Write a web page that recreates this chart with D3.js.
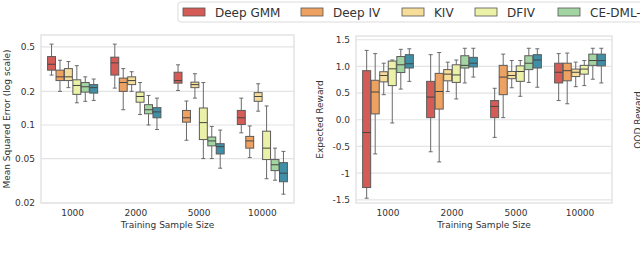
<!DOCTYPE html>
<html>
<head>
<meta charset="utf-8">
<script src="https://cdn.jsdelivr.net/npm/d3@7"></script>
<style>
  body { margin: 0; background: #fff; }
  text { font-family: "DejaVu Sans", sans-serif; fill: #333; }
</style>
</head>
<body>
<script>
// categories and series
var sizes = ["1000", "2000", "5000", "10000"];
var methods = ["Deep GMM", "Deep IV", "KIV", "DFIV", "CE-DML-IV", "CE-DML-IV (ours)"];
var colors = ["#d55b56", "#eea262", "#f7dd9a", "#ebf2a7", "#a3d5a2", "#3f8fa6"];

// box stats per size: [low whisker, q1, median, q3, high whisker]
var mseDeepGMM = [[0.28, 0.31, 0.35, 0.41, 0.53], [0.214, 0.28, 0.36, 0.405, 0.53], [0.204, 0.237, 0.25, 0.297, 0.346], [0.085, 0.101, 0.116, 0.135, 0.174]];
var mseDeepIV = [[0.2, 0.25, 0.27, 0.31, 0.38], [0.137, 0.2, 0.24, 0.263, 0.32], [0.073, 0.106, 0.116, 0.135, 0.164], [0.051, 0.062, 0.072, 0.079, 0.098]];
var mseKIV = [[0.216, 0.25, 0.27, 0.32, 0.37], [0.2, 0.23, 0.25, 0.27, 0.30], [0.174, 0.216, 0.23, 0.242, 0.288], [0.133, 0.163, 0.18, 0.195, 0.234]];
var mseDFIV = [[0.158, 0.188, 0.226, 0.254, 0.34], [0.124, 0.16, 0.18, 0.197, 0.24], [0.05, 0.074, 0.105, 0.142, 0.24], [0.033, 0.049, 0.062, 0.088, 0.148]];
var mseCEDML = [[0.163, 0.197, 0.22, 0.24, 0.27], [0.1, 0.126, 0.137, 0.152, 0.184], [0.05, 0.065, 0.072, 0.078, 0.097], [0.032, 0.039, 0.044, 0.049, 0.062]];
var mseOurs = [[0.166, 0.193, 0.216, 0.23, 0.258], [0.091, 0.116, 0.131, 0.143, 0.174], [0.041, 0.055, 0.064, 0.068, 0.09], [0.024, 0.031, 0.037, 0.046, 0.058]];

var rewDeepGMM = [[-1.47, -1.27, -0.24, 0.92, 1.30], [-0.60, 0.04, 0.425, 0.72, 1.22], [-0.33, 0.04, 0.25, 0.36, 0.59], [0.36, 0.69, 0.89, 1.06, 1.24]];
var rewDeepIV = [[-0.64, 0.11, 0.52, 0.74, 1.24], [-0.79, 0.2, 0.53, 0.87, 1.26], [0.04, 0.47, 0.80, 1.02, 1.23], [0.30, 0.73, 0.92, 1.06, 1.25]];
var rewKIV = [[0.47, 0.71, 0.83, 0.90, 1.06], [0.53, 0.73, 0.855, 0.94, 1.08], [0.60, 0.77, 0.83, 0.905, 1.11], [0.62, 0.81, 0.89, 0.95, 1.08]];
var rewDFIV = [[-0.06, 0.64, 0.955, 1.10, 1.12], [0.39, 0.70, 0.84, 1.03, 1.12], [0.44, 0.72, 0.905, 1.01, 1.11], [0.64, 0.855, 0.95, 1.02, 1.11]];
var rewCEDML = [[0.575, 0.885, 1.03, 1.185, 1.32], [0.69, 0.97, 1.02, 1.2, 1.34], [0.70, 0.94, 1.06, 1.20, 1.34], [0.76, 1.02, 1.11, 1.23, 1.34]];
var rewOurs = [[0.72, 0.97, 1.05, 1.22, 1.33], [0.80, 0.99, 1.06, 1.17, 1.34], [0.61, 0.97, 1.12, 1.22, 1.33], [0.69, 1.01, 1.11, 1.23, 1.34]];

var mseTicks = [0.02, 0.05, 0.1, 0.2, 0.5];
var mseTickLabels = ["0.02", "0.05", "0.1", "0.2", "0.5"];
var rewTicks = [-1.5, -1, -0.5, 0, 0.5, 1, 1.5];
var rewTickLabels = ["-1.5", "-1", "-0.5", "0.0", "0.5", "1.0", "1.5"];

var w = 640;
var h = 254;

var svg = d3.select("body")
    .append("svg")
    .attr("width", w)
    .attr("height", h);

// flatten series arrays into rows for d3 data joins
function toRows(seriesList) {
    var rows = [];
    seriesList.forEach(function(s, i) {
        s.forEach(function(d, j) {
            rows.push({ method: methods[i], size: sizes[j], lo: d[0], q1: d[1], med: d[2], q3: d[3], hi: d[4], c: colors[i] });
        });
    });
    return rows;
}

function drawPanel(opt) {
    var g = svg.append("g");
    var x = d3.scaleBand().domain(sizes).range([opt.left, opt.right]).paddingInner(0).paddingOuter(0);
    var inner = d3.scaleBand().domain(methods).range([x.bandwidth() * 0.1, x.bandwidth() * 0.9]);
    var y = opt.y;

    // frame
    g.append("rect")
        .attr("x", opt.left).attr("y", opt.top)
        .attr("width", opt.right - opt.left).attr("height", opt.bottom - opt.top)
        .attr("fill", "none").attr("stroke", "#dcdcdc").attr("stroke-width", 1.2);

    // grid lines
    g.selectAll(".grid").data(opt.ticks).enter()
        .append("line")
        .attr("x1", opt.left).attr("x2", opt.right)
        .attr("y1", function(d) { return y(d); })
        .attr("y2", function(d) { return y(d); })
        .attr("stroke", "#e3e3e3").attr("stroke-width", 1.2);

    // y axis
    var yAxis = d3.axisLeft(y).tickValues(opt.ticks)
        .tickFormat(function(d, i) { return opt.tickLabels[i]; })
        .tickSize(0).tickPadding(6);
    var ya = g.append("g").attr("transform", "translate(" + opt.left + ",0)").call(yAxis);
    ya.select(".domain").remove();
    ya.selectAll("text").style("font-size", "9px").attr("fill", "#333");

    // x axis
    var xAxis = d3.axisBottom(x).tickSize(0).tickPadding(7);
    var xa = g.append("g").attr("transform", "translate(0," + opt.bottom + ")").call(xAxis);
    xa.select(".domain").remove();
    xa.selectAll("text").style("font-size", "9px").attr("fill", "#333");

    g.append("text")
        .attr("x", (opt.left + opt.right) / 2).attr("y", opt.bottom + 25)
        .attr("text-anchor", "middle").style("font-size", "9px")
        .text("Training Sample Size");

    g.append("text")
        .attr("transform", "translate(" + opt.ylabelX + "," + ((opt.top + opt.bottom) / 2) + ") rotate(-90)")
        .attr("text-anchor", "middle").style("font-size", "9px")
        .text(opt.ylabel);

    var bw = inner.bandwidth() * 0.94;
    var boxes = g.selectAll(".box").data(opt.rows).enter()
        .append("g")
        .attr("transform", function(d) {
            return "translate(" + (x(d.size) + inner(d.method) + inner.bandwidth() / 2) + ",0)";
        });

    // whiskers
    boxes.append("line")
        .attr("x1", 0).attr("x2", 0)
        .attr("y1", function(d) { return y(d.hi); })
        .attr("y2", function(d) { return y(d.q3); })
        .attr("stroke", "#6a6a6a").attr("stroke-width", 1);
    boxes.append("line")
        .attr("x1", 0).attr("x2", 0)
        .attr("y1", function(d) { return y(d.q1); })
        .attr("y2", function(d) { return y(d.lo); })
        .attr("stroke", "#6a6a6a").attr("stroke-width", 1);
    boxes.selectAll(".cap").data(function(d) { return [d.lo, d.hi]; }).enter()
        .append("line")
        .attr("x1", -bw / 4).attr("x2", bw / 4)
        .attr("y1", function(v) { return y(v); })
        .attr("y2", function(v) { return y(v); })
        .attr("stroke", "#6a6a6a").attr("stroke-width", 1);

    boxes.append("rect")
        .attr("x", -bw / 2).attr("width", bw)
        .attr("y", function(d) { return y(d.q3); })
        .attr("height", function(d) { return y(d.q1) - y(d.q3); })
        .attr("fill", function(d) { return d.c; })
        .attr("stroke", "#5a5a5a").attr("stroke-width", 1);

    boxes.append("line")
        .attr("x1", -bw / 2).attr("x2", bw / 2)
        .attr("y1", function(d) { return y(d.med); })
        .attr("y2", function(d) { return y(d.med); })
        .attr("stroke", "#444").attr("stroke-width", 1);
}

// left panel: log scale MSE
drawPanel({
    left: 41, right: 294, top: 35, bottom: 203,
    y: d3.scaleLog().domain([0.02, 0.64]).range([203, 35]),
    ticks: mseTicks, tickLabels: mseTickLabels,
    ylabel: "Mean Squared Error (log scale)", ylabelX: 10,
    rows: toRows([mseDeepGMM, mseDeepIV, mseKIV, mseDFIV, mseCEDML, mseOurs])
});

// right panel: expected reward
drawPanel({
    left: 356, right: 612, top: 36, bottom: 203,
    y: d3.scaleLinear().domain([-1.56, 1.57]).range([203, 36]),
    ticks: rewTicks, tickLabels: rewTickLabels,
    ylabel: "Expected Reward", ylabelX: 323,
    rows: toRows([rewDeepGMM, rewDeepIV, rewKIV, rewDFIV, rewCEDML, rewOurs])
});

// third panel's label, mostly cut off at the edge
svg.append("text")
    .attr("transform", "translate(641,120) rotate(-90)")
    .attr("text-anchor", "middle").style("font-size", "9px")
    .text("OOD Reward");

// legend
var leg = svg.append("g").attr("transform", "translate(178,2)");
leg.append("rect")
    .attr("x", 0).attr("y", 0).attr("width", 520).attr("height", 20)
    .attr("rx", 3).attr("fill", "#fff").attr("stroke", "#dcdcdc");
var legX = [5, 123, 224, 297, 380, 530];
var items = leg.selectAll(".item").data(methods).enter()
    .append("g")
    .attr("transform", function(d, i) { return "translate(" + legX[i] + ",0)"; });
items.append("rect")
    .attr("x", 0).attr("y", 6).attr("width", 22).attr("height", 8)
    .attr("fill", function(d, i) { return colors[i]; })
    .attr("stroke", "#555").attr("stroke-width", 0.8);
items.append("text")
    .attr("x", 32).attr("y", 14.5)
    .style("font-size", "12px")
    .text(function(d) { return d; });
</script>
</body>
</html>
